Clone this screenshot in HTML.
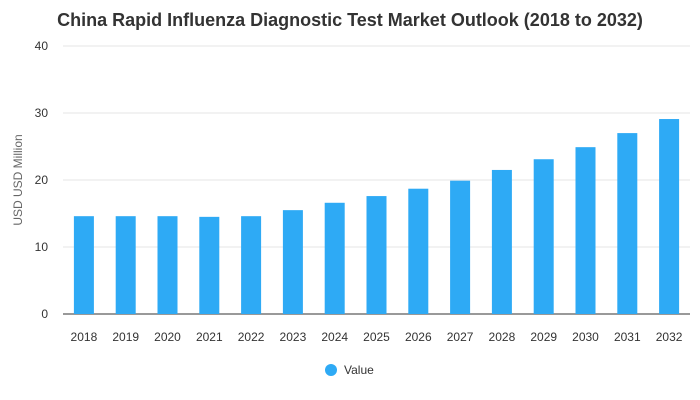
<!DOCTYPE html>
<html><head><meta charset="utf-8"><style>
body{margin:0;background:#fff;}
svg{display:block;font-family:"Liberation Sans",Arial,sans-serif;}
</style></head><body>
<svg id="chart" width="700" height="400">
<text x="350" y="26" text-anchor="middle" font-size="18" font-weight="bold" fill="#333">China Rapid Influenza Diagnostic Test Market Outlook (2018 to 2032)</text>
<text transform="translate(22,180) rotate(-90)" text-anchor="middle" font-size="12" fill="#666">USD USD Million</text>
<g id="grid"></g><g id="bars"></g><g id="xlabels"></g>
<g>
<circle cx="331" cy="370" r="6" fill="#2eaaf5"></circle>
<text x="344" y="374" font-size="12" fill="#333">Value</text>
</g>
</svg>
<script>
const categories=["2018","2019","2020","2021","2022","2023","2024","2025","2026","2027","2028","2029","2030","2031","2032"];
const values=[14.6,14.6,14.6,14.5,14.6,15.5,16.6,17.6,18.7,19.9,21.5,23.1,24.9,27.0,29.1];
const yTicks=[0,10,20,30,40];
const ns="http://www.w3.org/2000/svg";
const plotLeft=63,plotRight=690,plotTop=46,plotBottom=314,yMax=40;
const yScale=v=>plotBottom-(v/yMax)*(plotBottom-plotTop);
const step=(plotRight-plotLeft)/categories.length;
const xScale=i=>plotLeft+step*(i+0.5);
const grid=document.getElementById('grid'),bars=document.getElementById('bars'),xl=document.getElementById('xlabels');
yTicks.forEach(t=>{
 const l=document.createElementNS(ns,'line');
 
 
 l.setAttribute('x1',plotLeft);l.setAttribute('x2',plotRight);l.setAttribute('y1',yScale(t));l.setAttribute('y2',yScale(t));
 l.setAttribute('stroke',t===0?'#333':'#e6e6e6');l.setAttribute('stroke-width','1');
 grid.appendChild(l);
 const tx=document.createElementNS(ns,'text');
 
 
 tx.setAttribute('x',48);tx.setAttribute('y',yScale(t)+4);tx.setAttribute('text-anchor','end');
 tx.setAttribute('font-size','12');tx.setAttribute('fill','#333');tx.textContent=t;
 grid.appendChild(tx);
});
categories.forEach((c,i)=>{
 const r=document.createElementNS(ns,'rect');
 
 
 r.setAttribute('x',xScale(i)-10);r.setAttribute('width',20);
 r.setAttribute('y',yScale(values[i]));r.setAttribute('height',plotBottom-yScale(values[i]));
 r.setAttribute('fill','#2eaaf5');
 bars.appendChild(r);
 const t=document.createElementNS(ns,'text');
 
 
 t.setAttribute('x',xScale(i));t.setAttribute('y',341);t.setAttribute('text-anchor','middle');
 t.setAttribute('font-size','12');t.setAttribute('fill','#333');t.textContent=c;
 xl.appendChild(t);
});
</script>
</body></html>
